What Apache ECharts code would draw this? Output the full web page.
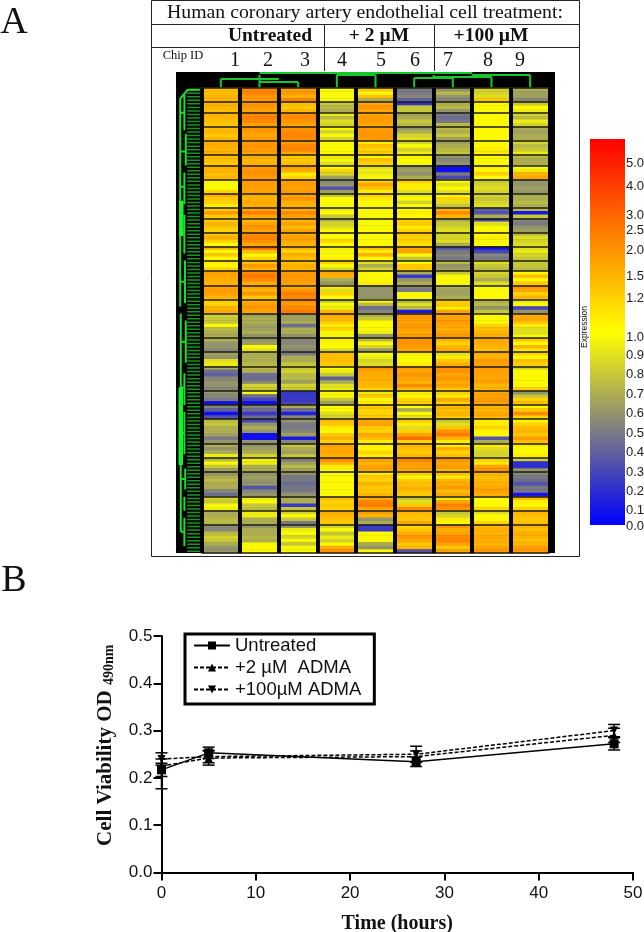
<!DOCTYPE html>
<html>
<head>
<meta charset="utf-8">
<style>
  html, body { margin: 0; padding: 0; background: #fff; }
  #chart { width: 644px; height: 932px; }
</style>
</head>
<body>
<div id="chart"></div>
<script src="https://cdn.jsdelivr.net/npm/echarts@6/dist/echarts.min.js"></script>
<script>
// panel A: rows per separated block, top to bottom
const blockSizes = [4,3,4,4,4,3,4,4,4,3,4,4,4,3,4,4,4,7,4,4,7,4,4,7,4,4,7,4,4,8];
const chipIds = ["1","2","3","4","5","6","7","8","9"];

// expression per row, chip by chip (read by eye)
const chip1 = [1.4,1.4,1.5,1.5, 1.5,1.5,1.4, 1.5,1.5,1.4,1.3, 1.4,1.5,1.3,1.5, 1.6,1.6,1.5,1.6, 1.4,1.4,1.3, 1.6,1.5,1.4,1.5, 1.0,1.0,1.05,1.2, 1.6,1.3,1.2,1.1, 1.3,1.9,1.3, 1.2,1.5,1.3,1.2, 1.3,1.6,1.2,1.0, 1.5,1.05,1.3,1.05, 1.1,1.0,1.2, 1.8,1.7,1.6,1.5, 1.8,1.9,1.8,1.5, 1.2,1.2,1.5,1.7,
  0.85,0.8,0.8,1.0,0.75,0.7,0.7, 0.7,0.6,0.6,0.55, 0.65,0.6,0.9,0.95, 0.7,0.45,0.4,0.55,0.6,0.6,0.55, 0.6,0.55,0.5,0.08, 0.55,0.4,0.08,0.35, 0.75,0.8,0.7,0.7,0.65,0.5,0.6, 0.7,0.6,0.7,0.95, 0.75,1.0,0.8,0.65, 0.6,0.7,0.75,0.7,0.7,0.55,0.45, 0.85,0.8,1.0,0.95, 0.7,0.7,0.75,0.75, 0.55,0.55,0.75,0.85,0.8,0.7,0.6,0.6];
const chip2 = [2.3,2.3,2.0,1.9, 2.0,1.9,1.8, 2.2,2.4,2.2,1.8, 2.0,1.9,1.7,1.9, 1.9,2.0,1.9,1.8, 1.6,1.5,1.5, 1.9,2.0,2.0,1.9, 1.9,1.9,1.8,1.8, 1.6,1.5,1.7,1.6, 1.7,2.4,1.7, 1.4,1.7,2.0,1.8, 2.1,2.3,2.1,1.7, 2.8,1.4,1.05,1.2, 1.4,1.9,1.5, 2.2,2.6,2.2,1.6, 1.8,1.5,2.0,1.3, 1.6,1.8,1.9,1.8,
  0.65,0.7,0.7,0.65,0.65,0.7,0.6, 0.6,0.65,1.0,0.9, 0.7,0.7,0.7,0.75, 0.75,0.7,0.45,0.45,0.55,0.85,0.8, 1.0,0.45,0.3,0.08, 0.55,0.45,0.25,0.45, 0.3,0.6,0.7,0.6,0.08,0.08,0.6, 0.6,0.65,0.7,0.85, 1.0,0.95,0.7,0.7, 0.6,0.65,0.6,0.6,0.35,0.55,0.6, 0.95,1.0,0.8,0.75, 0.95,0.95,0.7,0.7, 0.6,0.7,0.7,0.75,0.7,1.0,1.05,1.05];
const chip3 = [1.8,1.9,1.6,2.3, 1.4,1.3,1.5, 2.1,2.2,2.0,1.7, 2.0,2.2,2.3,2.2, 1.9,2.2,2.3,1.7, 1.3,1.3,1.4, 1.9,1.6,1.1,1.2, 1.9,1.9,1.8,1.9, 1.7,2.0,1.6,1.5, 1.6,2.2,1.8, 1.4,1.8,1.4,1.8, 1.6,1.8,1.7,1.5, 1.5,1.2,1.6,1.4, 1.4,1.6,1.5, 1.9,2.0,1.9,1.8, 1.6,2.0,2.4,2.2, 2.1,1.9,2.2,2.5,
  0.65,0.65,0.7,0.45,0.7,0.7,0.6, 0.55,0.55,0.6,0.55, 0.5,0.7,0.7,0.8, 0.8,0.85,0.75,0.75,0.65,0.85,0.8, 0.25,0.25,0.25,0.3, 0.7,0.45,0.15,0.55, 0.6,0.5,0.5,0.55,0.65,0.12,0.55, 0.8,0.7,0.65,0.8, 0.5,0.65,0.75,0.65, 0.6,0.5,0.5,0.45,0.5,0.5,0.6, 0.7,0.7,0.25,0.8, 0.85,1.0,0.8,0.5, 0.6,0.95,1.0,0.85,1.0,0.8,1.0,1.0];
const chip4 = [1.0,1.0,1.0,1.0, 0.8,0.75,0.7, 0.95,0.75,0.9,0.85, 1.05,0.85,1.0,0.85, 1.05,1.0,1.05,1.05, 0.95,1.0,0.9, 1.05,1.2,0.85,0.65, 0.55,0.6,0.35,0.65, 0.8,1.0,1.05,1.0, 0.95,1.05,0.8, 0.7,0.85,0.9,1.05, 1.05,1.0,1.2,1.05, 1.1,1.0,1.05,1.1, 1.2,1.05,0.85, 1.7,1.5,0.7,0.6, 1.1,0.9,1.2,1.05, 0.8,1.0,0.95,1.5,
  1.7,1.5,1.3,1.1,1.2,1.0,1.05, 1.1,1.0,1.05,0.85, 1.4,1.4,1.4,1.3, 1.05,0.95,0.8,0.4,0.7,0.9,0.95, 1.05,1.0,0.8,0.65, 1.0,1.05,0.9,0.85, 1.4,1.3,1.1,1.0,1.3,1.6,1.2, 1.8,1.7,1.7,1.6, 2.2,1.5,1.1,1.05, 1.05,1.0,1.05,1.05,1.0,1.05,1.0, 1.4,1.2,1.3,1.2, 1.6,1.5,1.4,1.3, 0.85,1.0,0.8,0.95,0.85,1.0,1.6,2.0];
const chip5 = [1.3,1.0,1.4,0.7, 1.7,2.0,1.7, 1.7,1.9,1.9,1.7, 1.9,1.9,2.0,1.9, 1.1,1.4,1.2,1.3, 1.05,1.4,1.2, 0.9,0.95,0.95,1.0, 1.2,1.7,1.3,1.1, 1.2,1.1,1.05,1.05, 1.05,1.0,1.0, 1.0,1.0,1.0,1.05, 1.05,1.0,1.05,1.05, 1.4,1.1,1.5,1.05, 0.9,0.7,0.85, 1.05,1.0,1.0,1.1, 0.6,0.6,0.6,0.6, 1.05,0.75,0.45,0.55,
  0.7,0.8,1.05,1.05,1.0,0.95,0.6, 0.75,1.05,0.85,0.6, 1.0,0.95,0.85,0.9, 2.0,1.7,1.6,1.6,1.5,1.5,1.2, 0.95,1.3,1.0,1.1, 1.3,1.2,1.2,1.3, 1.7,1.8,1.3,1.2,1.7,1.4,1.1, 1.1,1.05,1.2,1.1, 1.8,1.5,1.8,1.7, 1.1,1.3,1.2,1.5,1.3,1.3,1.5, 1.7,2.3,2.5,1.7, 1.9,1.5,0.6,0.7, 0.25,0.25,1.05,1.05,1.0,0.7,0.6,1.05];
const chip6 = [0.5,0.5,0.55,0.4, 0.2,0.8,0.8, 0.65,0.7,0.8,0.75, 0.6,0.7,0.85,0.9, 0.85,1.0,0.85,0.95, 1.05,1.05,1.0, 0.6,0.65,0.6,0.7, 1.3,1.1,1.1,0.9, 0.95,1.05,0.85,1.0, 1.05,1.1,1.05, 1.2,1.3,1.1,1.2, 1.3,1.2,1.2,1.15, 1.7,1.8,1.0,0.8, 1.05,1.3,1.3, 0.7,0.25,0.6,0.7, 0.55,0.5,1.0,1.0, 0.7,0.9,0.75,0.12,
  1.9,1.9,1.8,1.9,1.8,1.7,1.9, 2.0,2.0,1.9,1.7, 1.1,1.0,1.05,1.1, 1.9,1.7,2.0,1.8,1.5,2.2,1.4, 1.1,1.05,1.2,1.2, 1.05,0.7,1.05,0.9, 1.3,1.1,0.9,1.2,1.8,2.8,1.2, 1.5,1.4,1.3,1.5, 2.3,1.9,1.8,1.7, 1.3,1.05,1.3,1.4,1.5,1.4,1.3, 0.8,0.9,1.3,2.2, 1.5,1.4,1.3,1.7, 1.2,1.3,1.6,2.0,1.7,1.3,1.5,0.35];
const chip7 = [0.6,0.75,0.6,0.55, 0.7,0.75,0.6, 0.5,0.45,0.5,0.75, 0.75,0.7,0.8,0.65, 0.65,0.7,0.75,0.8, 0.6,0.55,0.6, 0.07,0.07,0.5,0.3, 1.05,0.9,1.05,0.9, 1.05,1.2,0.9,0.8, 1.5,2.2,1.5, 0.7,0.8,0.85,0.9, 0.85,0.85,0.9,0.7, 0.35,0.5,0.55,0.5, 0.75,0.6,0.65, 0.8,1.0,1.0,1.0, 0.7,0.65,0.65,0.7, 1.2,1.3,1.1,1.8,
  1.7,1.8,1.9,1.7,1.6,1.8,1.9, 1.5,1.2,1.5,1.7, 0.9,1.1,1.3,1.6, 2.0,2.1,1.7,2.0,1.6,1.8,1.3, 1.2,1.1,1.7,1.2, 1.5,1.4,1.5,1.3, 0.8,0.9,1.3,2.0,2.5,1.5,1.1, 1.1,1.6,1.2,1.4, 2.0,1.7,1.9,1.5, 1.4,1.1,1.5,1.6,1.9,1.4,1.7, 1.1,1.7,2.4,2.0, 0.8,0.85,1.1,1.0, 2.0,1.6,1.8,2.2,2.3,1.8,1.3,1.8];
const chip8 = [0.85,0.85,0.9,1.3, 1.05,1.05,1.0, 1.05,1.05,1.05,1.05, 1.05,1.05,1.05,1.05, 1.0,1.05,1.1,1.1, 1.05,1.0,1.05, 1.1,1.05,1.2,1.05, 0.8,0.85,0.9,0.85, 0.85,0.8,0.85,0.9, 0.4,0.35,0.7, 0.3,0.9,1.0,1.05, 1.05,1.1,1.0,1.0, 0.12,0.3,0.55,0.5, 0.9,0.8,0.75, 0.85,0.8,0.7,0.9, 1.0,1.0,1.05,1.05, 0.7,0.75,0.6,0.8,
  1.05,1.05,1.05,1.2,1.4,1.5,1.6, 1.7,1.6,1.5,1.4, 1.6,1.5,1.9,1.8, 1.9,1.8,1.8,1.7,1.8,1.5,1.5, 1.7,1.8,1.9,1.8, 1.5,1.5,1.7,1.5, 1.1,1.1,1.2,1.05,1.05,0.35,0.7, 1.1,0.9,0.85,0.85, 1.2,1.1,1.8,2.0, 1.5,1.4,1.5,1.5,1.7,1.8,1.6, 1.05,1.05,1.0,1.2, 0.9,1.0,1.05,1.2, 1.5,1.6,1.5,1.7,1.6,1.5,1.8,1.9];
const chip9 = [0.7,0.65,0.65,0.55, 0.8,1.05,0.95, 0.85,0.75,0.95,0.85, 0.7,0.65,0.7,0.7, 0.85,0.75,0.8,0.95, 0.75,0.7,0.7, 1.0,0.95,1.5,1.7, 0.6,0.6,0.65,0.6, 0.7,0.7,0.75,0.7, 0.75,0.1,0.8, 0.55,0.5,0.6,0.65, 0.75,0.9,0.85,0.9, 0.9,0.95,0.85,0.8, 0.8,0.8,0.75, 1.05,1.4,1.0,1.3, 2.0,1.7,1.2,1.5, 0.95,1.0,0.3,0.6,
  1.6,1.7,1.4,1.1,0.9,0.9,1.0, 1.3,1.05,1.5,1.1, 1.2,1.05,1.4,1.2, 0.85,1.05,1.05,1.05,1.05,1.0,1.2, 0.6,0.8,1.2,1.4, 1.05,1.3,2.2,1.2, 1.05,1.2,1.4,1.5,1.3,1.9,1.4, 1.1,1.0,1.05,1.1, 0.85,0.2,0.2,0.6, 0.55,0.5,0.45,0.35,0.5,0.5,0.1, 1.4,1.1,1.05,1.2, 1.5,1.4,1.3,1.4, 1.5,1.4,1.6,1.5,1.4,1.5,1.9,1.9];
const chips = [chip1, chip2, chip3, chip4, chip5, chip6, chip7, chip8, chip9];

// colour bar labels and where they sit on the bar (0 bottom, 1 top)
const scaleLabels = ["0.0","0.1","0.2","0.3","0.4","0.5","0.6","0.7","0.8","0.9","1.0","1.2","1.5","2.0","2.5","3.0","4.0","5.0"];
const scalePos = [-0.005,0.039,0.088,0.137,0.189,0.238,0.288,0.337,0.389,0.438,0.487,0.588,0.645,0.712,0.762,0.803,0.876,0.938];
const scaleColors = ["#0000ff", "#ffff00", "#ff0000"];

// dendrograms, as [x1, y1, x2, y2]; top: chip position / height, left: depth / row
const topTree = [
  [0.5,0,0.5,9],[0.5,9,2,9],[1.5,0,1.5,13],[2.5,0,2.5,6],[1.5,6,2.5,6],[1.5,13,1.5,9],
  [3.5,0,3.5,13],[4.5,0,4.5,13],[3.5,13,4.5,13],[5.5,0,5.5,10],[6.5,0,6.5,10],[5.5,10,6.5,10],
  [7.5,0,7.5,11],[6,11,7.5,11],[8.5,0,8.5,13],[7,13,8.5,13],[1.5,15,7,15],[4,13,4,15],[6,10,6,13]
];
const leftSpine = [
  [0.15,3,0.15,62],[0.15,3,0.42,0.5],[0.42,0.5,1,0.5],[0.3,2,0.3,12],[0.35,13,0.35,22],[0.3,24,0.3,33],
  [0.3,36,0.3,47],[0.32,49,0.32,61],[0.15,7,0.3,7],[0.15,18,0.35,18],[0.15,28,0.3,28],[0.15,41,0.3,41],[0.15,55,0.32,55],
  [0.17,64,0.17,126],[0.35,66,0.35,78],[0.3,81,0.3,90],[0.3,92,0.3,104],[0.33,108,0.33,114],[0.3,116,0.3,120],[0.3,122,0.3,130],
  [0.17,72,0.35,72],[0.17,85,0.3,85],[0.17,98,0.3,98],[0.17,111,0.33,111],[0.17,126,0.3,126]
];
const leftTrunk = [[0.19,32,0.19,42],[0.17,85,0.17,107]];
const leafStart = 0.4;

// panel B
const timePoints = [0, 5, 27, 48];
const untreated = [0.217, 0.253, 0.234, 0.272];
const untreatedLow = [0.203, 0.241, 0.224, 0.259];
const untreatedHigh = [0.231, 0.265, 0.244, 0.285];
const adma2 = [0.225, 0.242, 0.245, 0.290];
const adma2Low = [0.177, 0.227, 0.233, 0.275];
const adma2High = [0.240, 0.257, 0.257, 0.305];
const adma100 = [0.240, 0.245, 0.250, 0.300];
const adma100Low = [0.227, 0.232, 0.233, 0.287];
const adma100High = [0.253, 0.258, 0.267, 0.313];

function toScale(v) {
  // expression value to bar position, by the printed labels
  const vals = scaleLabels.map(Number);
  for (let i = 1; i < vals.length; i++) {
    if (v <= vals[i]) {
      return Math.max(0, scalePos[i - 1] + (scalePos[i] - scalePos[i - 1]) * (v - vals[i - 1]) / (vals[i] - vals[i - 1]));
    }
  }
  return scalePos[scalePos.length - 1];
}

const rowNames = [];
for (let r = 0; r < chip1.length; r++) rowNames.push(String(r));
const heatData = [];
chips.forEach((c, i) => c.forEach((v, r) => heatData.push([i, r, v, toScale(v)])));

// first row of every block, where the black rule goes
const blockStarts = {};
blockSizes.reduce((s, n) => { blockStarts[s] = true; return s + n; }, 0);

function segments(list) {
  const out = [];
  list.forEach(s => { out.push([s[0], s[1]], [s[2], s[3]], [null, null]); });
  return out;
}
const leafLines = [];
rowNames.forEach((n, r) => leafLines.push([leafStart, r + 0.5], [1, r + 0.5], [null, null]));

function treeSeries(name, axis, data, color, width) {
  return {
    name: name, type: "line", xAxisIndex: axis, yAxisIndex: axis, data: data,
    showSymbol: false, silent: true, animation: false, z: 4,
    lineStyle: { color: color, width: width }
  };
}

function errorSeries(name, low, high) {
  return {
    name: name, type: "custom", xAxisIndex: 4, yAxisIndex: 4, clip: false, silent: true, z: 3,
    data: timePoints.map((t, i) => [t, low[i], high[i]]),
    encode: { x: 0, y: [1, 2] },
    renderItem(params, api) {
      const a = api.coord([api.value(0), api.value(1)]);
      const b = api.coord([api.value(0), api.value(2)]);
      const st = { stroke: "#000", lineWidth: 1.5, fill: null };
      return {
        type: "group",
        children: [
          { type: "line", shape: { x1: a[0], y1: a[1], x2: b[0], y2: b[1] }, style: st },
          { type: "line", shape: { x1: a[0] - 6, y1: a[1], x2: a[0] + 6, y2: a[1] }, style: st },
          { type: "line", shape: { x1: b[0] - 6, y1: b[1], x2: b[0] + 6, y2: b[1] }, style: st }
        ]
      };
    }
  };
}

function viabilitySeries(name, values, symbol, rotate, dash, size) {
  return {
    name: name, type: "line", xAxisIndex: 4, yAxisIndex: 4, clip: false,
    data: timePoints.map((t, i) => [t, values[i]]),
    symbol: symbol, symbolSize: size, symbolRotate: rotate, z: 5,
    itemStyle: { color: "#000" },
    lineStyle: { color: "#000", width: 1.5, type: dash }
  };
}

const SERIF = '"Liberation Serif", serif';
const SANS = '"Liberation Sans", sans-serif';

function label(text, x, y, size, weight, extra) {
  return Object.assign({
    type: "text", x: x, y: y, silent: true, z: 20,
    style: {
      text: text, fill: "#111", font: (weight || "normal") + " " + size + "px " + SERIF,
      textAlign: "center", textVerticalAlign: "middle"
    }
  }, extra || {});
}
function rule(x1, y1, x2, y2, width) {
  return {
    type: "line", silent: true, z: 19,
    shape: { x1: x1, y1: y1, x2: x2, y2: y2 },
    style: { stroke: "#222", lineWidth: width || 1 }
  };
}

const chipX = [235, 268, 305, 342, 381, 415, 448, 488, 520];

const chart = echarts.init(document.getElementById("chart"), null, { renderer: "canvas" });
chart.setOption({
  animation: false,
  backgroundColor: "#fff",
  graphic: [
    { type: "rect", silent: true, z: -10, shape: { x: 176, y: 72, width: 379, height: 481 }, style: { fill: "#000" } },
    { type: "rect", silent: true, z: 19, shape: { x: 151.5, y: 0.5, width: 428, height: 556 }, style: { fill: null, stroke: "#222", lineWidth: 1 } },
    rule(151, 24.5, 579, 24.5),
    rule(151, 47.5, 579, 47.5),
    rule(324.5, 25, 324.5, 71),
    rule(434.5, 25, 434.5, 71),
    label("A", 14, 23, 38),
    label("B", 14, 581, 38),
    label("Human coronary artery endothelial cell treatment:", 365, 13, 19.8),
    label("Untreated", 270, 36, 19.5, "bold"),
    label("+ 2 \u00b5M", 379, 36, 19.5, "bold"),
    label("+100 \u00b5M", 491, 36, 19.5, "bold"),
    label("Chip ID", 183, 56, 12.5),
    ...chipIds.map((c, i) => label(c, chipX[i], 61, 20)),
    label("Expression", 585, 327, 8.5, "normal", {
      rotation: Math.PI / 2,
      style: { text: "Expression", fill: "#111", font: "8.5px " + SANS, textAlign: "center", textVerticalAlign: "middle" }
    })
  ],
  grid: [
    { left: 201.5, top: 88, width: 348, height: 465, outerBoundsMode: "none" },
    { left: 201.5, top: 72, width: 348, height: 16, outerBoundsMode: "none" },
    { left: 176, top: 88, width: 28, height: 465, outerBoundsMode: "none" },
    { left: 590, top: 139, width: 35, height: 393.7, outerBoundsMode: "none" },
    { left: 161.5, top: 636, width: 471.5, height: 236.5, outerBoundsMode: "none" }
  ],
  xAxis: [
    {
      gridIndex: 0, type: "category", data: chipIds, z: 6,
      axisLine: { show: false }, axisTick: { show: false }, axisLabel: { show: false },
      splitLine: { show: true, lineStyle: { color: "#000", width: 4 } }
    },
    { gridIndex: 1, type: "value", min: 0, max: 9, show: false },
    { gridIndex: 2, type: "value", min: 0, max: 1, show: false },
    { gridIndex: 3, type: "value", min: 0, max: 1, show: false },
    {
      gridIndex: 4, type: "value", min: 0, max: 50, interval: 10,
      name: "Time (hours)", nameLocation: "middle", nameGap: 41,
      nameTextStyle: { fontFamily: SERIF, fontWeight: "bold", fontSize: 20, color: "#111" },
      axisLine: { onZero: false, lineStyle: { color: "#000", width: 2 } },
      axisTick: { length: 8, lineStyle: { color: "#000", width: 2 } },
      axisLabel: { fontFamily: SANS, fontSize: 17, color: "#111", margin: 12 },
      splitLine: { show: false }
    }
  ],
  yAxis: [
    {
      gridIndex: 0, type: "category", data: rowNames, inverse: true, z: 6,
      axisLine: { show: false }, axisTick: { show: false }, axisLabel: { show: false },
      splitLine: {
        show: true,
        interval: i => !!blockStarts[i],
        lineStyle: { color: "#1c1c10", width: 1.5 }
      }
    },
    { gridIndex: 1, type: "value", min: 0, max: 16, show: false },
    { gridIndex: 2, type: "value", min: 0, max: rowNames.length, inverse: true, show: false },
    {
      gridIndex: 3, type: "value", min: -0.02, max: 1, position: "right",
      axisLine: { show: false }, axisTick: { show: false }, splitLine: { show: false },
      axisLabel: {
        customValues: scalePos,
        inside: false, margin: 1, fontFamily: SANS, fontSize: 13, color: "#222", align: "left",
        formatter: v => scaleLabels[scalePos.indexOf(v)]
      }
    },
    {
      gridIndex: 4, type: "value", min: 0, max: 0.5, interval: 0.1,
      name: "{b|Cell Viability OD }{s|490nm}", nameLocation: "middle", nameGap: 45,
      nameTextStyle: {
        padding: [0, 0, 0, 18],
        rich: {
          b: { fontFamily: SERIF, fontWeight: "bold", fontSize: 21, color: "#111" },
          s: { fontFamily: SERIF, fontWeight: "bold", fontSize: 14, color: "#111", verticalAlign: "bottom" }
        }
      },
      axisLine: { lineStyle: { color: "#000", width: 2 } },
      axisTick: { length: 8, lineStyle: { color: "#000", width: 2 } },
      axisLabel: { fontFamily: SANS, fontSize: 17, color: "#111", margin: 9, formatter: v => v.toFixed(1) },
      splitLine: { show: false }
    }
  ],
  visualMap: {
    type: "continuous", show: false, seriesIndex: 0, dimension: 3, min: 0, max: 1,
    inRange: { color: scaleColors }
  },
  legend: {
    left: 185, top: 634, orient: "vertical", padding: [2, 13, 5, 8],
    borderColor: "#000", borderWidth: 3, backgroundColor: "#fff",
    itemWidth: 36, itemHeight: 10, itemGap: 3, z: 15,
    textStyle: { fontFamily: SANS, fontSize: 18.5, color: "#111" },
    data: ["Untreated", "+2 \u00b5M  ADMA", "+100\u00b5M ADMA"]
  },
  series: [
    {
      type: "heatmap", xAxisIndex: 0, yAxisIndex: 0, data: heatData, progressive: 0, silent: true,
      encode: { x: 0, y: 1 }, z: 2
    },
    treeSeries("leaves", 2, leafLines, "#0f9a1e", 1.5),
    treeSeries("spine", 2, segments(leftSpine), "#18e028", 2),
    treeSeries("trunk", 2, segments(leftTrunk), "#18f02c", 4.5),
    treeSeries("top tree", 1, segments(topTree), "#14c82c", 2),
    {
      // colour bar, one gradient rect across the bar's axis range
      name: "colour bar", type: "custom", xAxisIndex: 3, yAxisIndex: 3, silent: true,
      data: [[0, 0, 1]],
      encode: { x: 0, y: [1, 2] },
      renderItem(params, api) {
        const low = api.coord([0, api.value(1)]);
        const high = api.coord([1, api.value(2)]);
        return {
          type: "rect",
          shape: { x: low[0], y: high[1], width: high[0] - low[0], height: low[1] - high[1] },
          style: {
            fill: new echarts.graphic.LinearGradient(0, 1, 0, 0,
              scaleColors.map((c, i) => ({ offset: i / (scaleColors.length - 1), color: c })))
          }
        };
      }
    },
    errorSeries("untreated err", untreatedLow, untreatedHigh),
    errorSeries("2 err", adma2Low, adma2High),
    errorSeries("100 err", adma100Low, adma100High),
    viabilitySeries("Untreated", untreated, "rect", 0, "solid", 9),
    viabilitySeries("+2 \u00b5M  ADMA", adma2, "triangle", 0, [4, 2], 8),
    viabilitySeries("+100\u00b5M ADMA", adma100, "triangle", 180, [4, 2], 8)
  ]
});
</script>
</body>
</html>
